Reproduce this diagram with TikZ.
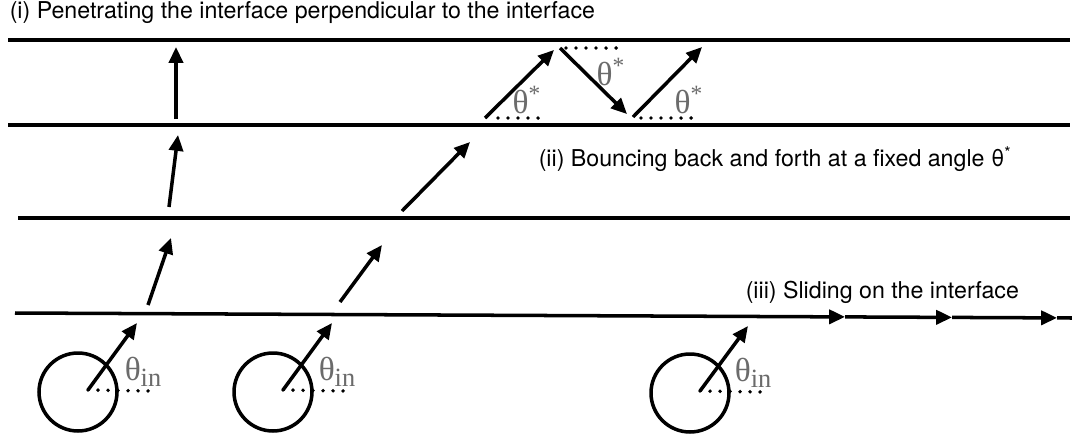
\documentclass[tikz,border=0pt]{standalone}
\usepackage{fontspec}
\setmainfont{TeX Gyre Heros}
\newfontfamily\thfont{Liberation Serif}
\usetikzlibrary{arrows.meta}
\definecolor{ThGray}{HTML}{6B6B6B}

\begin{document}
\begin{tikzpicture}[x=0.02cm,y=-0.02cm,line width=2pt,
  >={Triangle[length=9pt,width=8pt]},
  dots/.style={line width=2.2pt,line cap=round,dash pattern=on 0pt off 5.7pt},
  ang/.style={text=ThGray,inner sep=0,font=\thfont\fontsize{19}{19}\selectfont},
  captext/.style={anchor=west,inner sep=0,font=\fontsize{13.2}{15}\selectfont}]
\path[use as bounding box] (0,0) rectangle (1072,440);
% interfaces
\draw (8,40) -- (1070,40);
\draw (8,125) -- (1070,125);
\draw (18,218) -- (1070,218);
\coordinate (s0) at (15,313);
\coordinate (s1) at (845,316.9);
\coordinate (s2) at (952,317.4);
\coordinate (s3) at (1057,317.9);
\coordinate (s4) at (1072,318);
\draw[->] (s0) -- (s1);
\draw[->] (s1) -- (s2);
\draw[->] (s2) -- (s3);
\draw (s3) -- (s4);
% sources
\node[draw,circle,minimum size=1.56cm,inner sep=0] (c1) at (78,392) {};
\node[draw,circle,minimum size=1.56cm,inner sep=0] (c2) at (273,392) {};
\node[draw,circle,minimum size=1.56cm,inner sep=0] (c3) at (690,393) {};
\coordinate (o1) at (88,390);
\coordinate (o2) at (283,390);
\coordinate (o3) at (700,391);
\draw[->] (o1) -- (137,323);
\draw[->] (o2) -- (332,323);
\draw[->] (o3) -- (748,326);
\draw[dots] (o1) -- (152,391);
\draw[dots] (o2) -- (347,391);
\draw[dots] (o3) -- (764,392);
\node[ang] (l1) at (143,372) {θ\raisebox{-0.35ex}{\fontsize{15}{15}\selectfont in}};
\node[ang] (l2) at (337,372) {θ\raisebox{-0.35ex}{\fontsize{15}{15}\selectfont in}};
\node[ang] (l3) at (753,373) {θ\raisebox{-0.35ex}{\fontsize{15}{15}\selectfont in}};
% (i) penetrating
\draw[->] (148,305) -- (171,238);
\draw[->] (169,207) -- (178,135);
\draw[->] (176,119) -- (176,47);
% (ii) bouncing
\draw[->] (340,302) -- (382,245);
\draw[->] (402,211) -- (470,142);
\coordinate (b1) at (485,118);
\coordinate (b2) at (560,48);
\coordinate (b3) at (633,117);
\draw[->] (b1) -- (554,50);
\draw[->] (b2) -- (627,114);
\draw[->] (b3) -- (702,47);
\draw[dots] (498,118) -- (548,118);
\draw[dots] (566,48) -- (626,48);
\draw[dots] (641,118) -- (701,118);
\node[ang] (a1) at (527,100) {θ\textsuperscript{*}};
\node[ang] (a2) at (611,72) {θ\textsuperscript{*}};
\node[ang] (a3) at (689,100) {θ\textsuperscript{*}};
% captions
\node[captext] (t1) at (8,13) {(i) Penetrating the interface perpendicular to the interface};
\node[captext] (t2) at (537,159) {(ii) Bouncing back and forth at a fixed angle θ\textsuperscript{*}};
\node[captext] (t3) at (744,292) {(iii) Sliding on the interface};
\end{tikzpicture}
\end{document}
